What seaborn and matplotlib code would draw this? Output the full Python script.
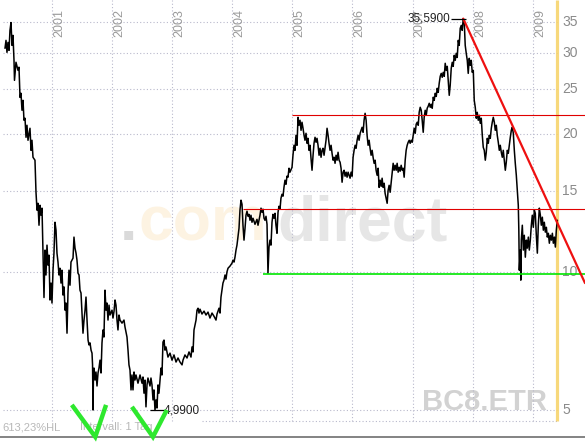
import matplotlib
matplotlib.use("Agg")
import matplotlib.pyplot as plt
import seaborn as sns

# price history BC8.ETR (decimal years, EUR)
years = [
    2000.218, 2000.235, 2000.251, 2000.268, 2000.285, 2000.301, 2000.318, 2000.335, 2000.351, 2000.368,
    2000.376, 2000.401, 2000.435, 2000.451, 2000.468, 2000.484, 2000.501, 2000.518, 2000.534, 2000.551,
    2000.568, 2000.584, 2000.601, 2000.634, 2000.651, 2000.667, 2000.684, 2000.717, 2000.734, 2000.751,
    2000.767, 2000.784, 2000.801, 2000.817, 2000.834, 2000.850, 2000.867, 2000.884, 2000.900, 2000.917,
    2000.934, 2000.950, 2000.967, 2000.984, 2001.000, 2001.017, 2001.033, 2001.050, 2001.067, 2001.083,
    2001.100, 2001.117, 2001.133, 2001.150, 2001.166, 2001.183, 2001.200, 2001.217, 2001.233, 2001.250,
    2001.266, 2001.283, 2001.300, 2001.316, 2001.350, 2001.366, 2001.383, 2001.400, 2001.416, 2001.433,
    2001.450, 2001.466, 2001.483, 2001.500, 2001.516, 2001.533, 2001.550, 2001.566, 2001.583, 2001.600,
    2001.616, 2001.633, 2001.650, 2001.666, 2001.675, 2001.683, 2001.691, 2001.699, 2001.716, 2001.732,
    2001.749, 2001.766, 2001.782, 2001.799, 2001.816, 2001.832, 2001.849, 2001.865, 2001.882, 2001.899,
    2001.915, 2001.932, 2001.949, 2001.965, 2001.999, 2002.015, 2002.032, 2002.049, 2002.065, 2002.082,
    2002.098, 2002.115, 2002.132, 2002.165, 2002.198, 2002.215, 2002.248, 2002.265, 2002.281, 2002.298,
    2002.315, 2002.331, 2002.348, 2002.365, 2002.381, 2002.398, 2002.431, 2002.465, 2002.498, 2002.514,
    2002.531, 2002.548, 2002.564, 2002.581, 2002.597, 2002.631, 2002.647, 2002.664, 2002.681, 2002.697,
    2002.714, 2002.731, 2002.747, 2002.764, 2002.780, 2002.797, 2002.814, 2002.830, 2002.847, 2002.864,
    2002.880, 2002.897, 2002.930, 2002.964, 2002.997, 2003.030, 2003.064, 2003.097, 2003.130, 2003.164,
    2003.180, 2003.213, 2003.247, 2003.280, 2003.313, 2003.330, 2003.347, 2003.363, 2003.380, 2003.397,
    2003.413, 2003.430, 2003.446, 2003.463, 2003.496, 2003.530, 2003.563, 2003.596, 2003.629, 2003.663,
    2003.696, 2003.729, 2003.746, 2003.779, 2003.796, 2003.812, 2003.829, 2003.845, 2003.862, 2003.879,
    2003.895, 2003.912, 2003.929, 2003.962, 2003.995, 2004.012, 2004.029, 2004.045, 2004.062, 2004.078,
    2004.095, 2004.112, 2004.128, 2004.145, 2004.162, 2004.178, 2004.195, 2004.212, 2004.228, 2004.245,
    2004.262, 2004.278, 2004.295, 2004.311, 2004.328, 2004.345, 2004.378, 2004.411, 2004.428, 2004.461,
    2004.478, 2004.494, 2004.511, 2004.528, 2004.544, 2004.561, 2004.578, 2004.594, 2004.611, 2004.627,
    2004.644, 2004.661, 2004.677, 2004.694, 2004.711, 2004.727, 2004.744, 2004.761, 2004.777, 2004.794,
    2004.810, 2004.827, 2004.844, 2004.860, 2004.877, 2004.894, 2004.910, 2004.927, 2004.944, 2004.960,
    2004.994, 2005.010, 2005.027, 2005.044, 2005.060, 2005.077, 2005.094, 2005.110, 2005.127, 2005.144,
    2005.160, 2005.177, 2005.194, 2005.210, 2005.227, 2005.244, 2005.260, 2005.277, 2005.294, 2005.310,
    2005.327, 2005.344, 2005.360, 2005.377, 2005.394, 2005.410, 2005.427, 2005.444, 2005.460, 2005.477,
    2005.494, 2005.510, 2005.527, 2005.544, 2005.560, 2005.577, 2005.594, 2005.610, 2005.627, 2005.644,
    2005.660, 2005.677, 2005.694, 2005.710, 2005.727, 2005.744, 2005.760, 2005.777, 2005.794, 2005.810,
    2005.827, 2005.844, 2005.860, 2005.877, 2005.894, 2005.910, 2005.927, 2005.944, 2005.960, 2005.977,
    2005.994, 2006.010, 2006.027, 2006.044, 2006.060, 2006.077, 2006.094, 2006.110, 2006.127, 2006.144,
    2006.160, 2006.177, 2006.193, 2006.210, 2006.227, 2006.243, 2006.260, 2006.277, 2006.293, 2006.310,
    2006.327, 2006.343, 2006.360, 2006.377, 2006.393, 2006.410, 2006.427, 2006.443, 2006.460, 2006.477,
    2006.493, 2006.510, 2006.527, 2006.543, 2006.560, 2006.577, 2006.593, 2006.610, 2006.627, 2006.643,
    2006.660, 2006.677, 2006.693, 2006.710, 2006.727, 2006.743, 2006.760, 2006.777, 2006.793, 2006.810,
    2006.827, 2006.843, 2006.860, 2006.877, 2006.893, 2006.910, 2006.927, 2006.944, 2006.960, 2006.977,
    2006.994, 2007.010, 2007.027, 2007.044, 2007.060, 2007.077, 2007.094, 2007.110, 2007.127, 2007.144,
    2007.160, 2007.177, 2007.193, 2007.210, 2007.227, 2007.243, 2007.260, 2007.277, 2007.294, 2007.310,
    2007.327, 2007.344, 2007.360, 2007.377, 2007.394, 2007.410, 2007.427, 2007.443, 2007.460, 2007.477,
    2007.493, 2007.510, 2007.527, 2007.543, 2007.560, 2007.577, 2007.593, 2007.610, 2007.626, 2007.643,
    2007.660, 2007.676, 2007.693, 2007.710, 2007.726, 2007.743, 2007.760, 2007.776, 2007.793, 2007.810,
    2007.826, 2007.843, 2007.860, 2007.876, 2007.893, 2007.910, 2007.926, 2007.943, 2007.960, 2007.976,
    2007.993, 2008.010, 2008.026, 2008.043, 2008.060, 2008.076, 2008.093, 2008.110, 2008.126, 2008.143,
    2008.160, 2008.176, 2008.193, 2008.210, 2008.226, 2008.243, 2008.260, 2008.276, 2008.293, 2008.310,
    2008.326, 2008.343, 2008.360, 2008.376, 2008.393, 2008.409, 2008.426, 2008.443, 2008.459, 2008.476,
    2008.493, 2008.509, 2008.526, 2008.543, 2008.559, 2008.576, 2008.593, 2008.609, 2008.626, 2008.643,
    2008.659, 2008.676, 2008.693, 2008.709, 2008.726, 2008.743, 2008.759, 2008.768, 2008.776, 2008.793,
    2008.801, 2008.809, 2008.826, 2008.843, 2008.859, 2008.876, 2008.893, 2008.909, 2008.926, 2008.942,
    2008.959, 2008.976, 2008.992, 2009.009, 2009.026, 2009.042, 2009.059, 2009.076, 2009.092, 2009.109,
    2009.126, 2009.142, 2009.159, 2009.176, 2009.192, 2009.209, 2009.226, 2009.242, 2009.259, 2009.276,
    2009.292, 2009.309, 2009.326, 2009.342, 2009.359, 2009.376, 2009.392, 2009.409,
]
prices = [
    30.67, 31.92, 30.06, 31.60, 30.36, 33.56, 34.90, 31.13, 32.73, 28.88,
    26.12, 28.60, 27.46, 27.90, 23.98, 24.48, 22.48, 23.63, 21.38, 21.60,
    19.63, 20.85, 19.34, 20.54, 18.39, 19.34, 17.76, 17.50, 14.90, 13.62,
    14.10, 12.63, 13.96, 13.28, 13.76, 11.15, 8.79, 11.15, 9.84, 11.43,
    10.34, 10.87, 8.68, 9.45, 8.55, 10.08, 10.98, 12.82, 12.32, 10.98,
    10.50, 9.84, 10.18, 9.45, 10.08, 8.90, 9.27, 8.25, 8.55, 7.35,
    8.99, 10.08, 9.35, 10.50, 10.71, 11.90, 11.26, 10.98, 10.60, 9.93,
    9.84, 9.12, 8.99, 8.13, 7.35, 7.85, 8.25, 8.81, 7.85, 7.10,
    6.93, 7.00, 6.75, 6.65, 6.27, 5.00, 6.11, 6.17, 5.81, 6.05,
    5.64, 6.02, 6.17, 6.42, 6.02, 7.00, 7.47, 7.21, 9.12, 8.25,
    8.55, 7.85, 8.46, 8.05, 8.25, 7.93, 8.20, 8.68, 8.46, 7.85,
    7.47, 8.05, 7.85, 7.73, 7.85, 7.58, 7.21, 6.75, 6.27, 6.11,
    5.53, 5.96, 5.53, 6.05, 5.81, 5.96, 5.72, 5.96, 5.72, 5.90,
    5.44, 5.81, 5.08, 5.67, 5.87, 5.64, 5.87, 5.67, 5.26, 5.53,
    4.99, 5.26, 5.05, 5.67, 5.44, 5.81, 6.17, 5.96, 7.03, 7.10,
    6.75, 6.86, 6.52, 6.65, 6.42, 6.59, 6.36, 6.49, 6.36, 6.27,
    6.42, 6.59, 6.49, 6.69, 6.52, 6.86, 6.69, 7.47, 7.66, 7.85,
    8.25, 8.33, 8.13, 8.29, 8.09, 8.21, 8.05, 8.17, 7.93, 8.13,
    8.00, 7.85, 8.09, 8.33, 8.13, 8.81, 9.12, 9.45, 9.59, 9.84,
    9.64, 10.00, 10.18, 10.29, 10.44, 10.60, 10.50, 10.76, 11.15, 11.43,
    11.95, 12.44, 13.62, 14.32, 14.03, 12.63, 11.72, 12.44, 13.28, 13.55,
    13.21, 13.34, 12.95, 13.28, 12.82, 13.08, 12.69, 13.01, 12.63, 13.28,
    13.76, 13.48, 13.69, 13.08, 12.95, 13.21, 12.69, 9.93, 11.32, 11.72,
    11.43, 12.82, 13.34, 13.08, 13.41, 12.63, 12.13, 13.48, 13.89, 13.69,
    14.46, 14.75, 14.61, 15.27, 15.83, 15.51, 16.15, 16.07, 16.81, 16.48,
    16.89, 17.94, 18.86, 18.39, 19.83, 18.86, 21.70, 20.85, 21.38, 20.33,
    21.17, 20.54, 19.83, 19.34, 20.03, 19.05, 19.53, 18.39, 18.86, 17.67,
    16.64, 17.94, 19.05, 19.63, 19.15, 19.53, 18.86, 17.94, 18.58, 17.76,
    18.39, 18.58, 17.94, 18.67, 19.34, 20.54, 19.83, 19.05, 18.39, 18.86,
    18.12, 17.50, 17.76, 17.23, 17.94, 17.50, 18.21, 17.50, 17.32, 16.81,
    15.67, 16.48, 16.64, 16.15, 16.48, 16.07, 16.48, 16.23, 15.99, 16.48,
    16.15, 17.76, 18.39, 18.86, 18.58, 19.34, 19.83, 19.34, 20.03, 20.33,
    20.64, 20.13, 21.38, 22.14, 21.38, 19.83, 18.86, 19.34, 18.58, 17.94,
    18.39, 17.76, 17.23, 17.50, 16.64, 16.23, 16.81, 15.27, 15.83, 15.35,
    15.99, 15.27, 15.59, 14.82, 14.46, 14.10, 15.05, 15.43, 14.90, 15.59,
    16.39, 17.23, 16.64, 17.06, 16.64, 17.23, 16.48, 16.89, 16.56, 17.06,
    16.64, 16.81, 16.07, 17.50, 18.39, 18.86, 19.15, 19.34, 19.05, 19.34,
    19.15, 19.83, 20.54, 20.03, 20.96, 21.17, 20.85, 22.25, 22.82, 22.48,
    21.38, 20.13, 21.70, 22.48, 21.92, 22.71, 22.94, 23.28, 22.82, 23.17,
    22.71, 24.00, 23.63, 24.48, 24.10, 25.10, 24.60, 25.73, 26.65, 27.05,
    26.52, 27.19, 26.65, 28.45, 27.46, 28.02, 26.12, 24.23, 25.48, 27.74,
    28.59, 28.02, 29.61, 28.88, 29.91, 29.30, 31.92, 31.13, 33.90, 34.41,
    33.56, 35.59, 34.90, 31.13, 29.91, 28.88, 27.05, 29.17, 28.16, 28.88,
    27.19, 27.46, 23.63, 22.82, 21.60, 22.25, 21.38, 21.92, 21.06, 21.60,
    19.83, 18.67, 18.39, 17.50, 18.21, 19.53, 19.05, 19.83, 19.53, 20.54,
    21.17, 21.70, 21.17, 20.33, 20.85, 19.83, 19.15, 18.39, 18.86, 18.21,
    17.76, 18.39, 17.50, 16.64, 17.32, 18.39, 18.12, 18.86, 19.63, 20.33,
    20.64, 20.03, 18.39, 17.23, 16.23, 15.05, 13.96, 12.32, 10.08, 11.15,
    9.59, 11.72, 12.63, 11.15, 12.01, 10.76, 11.72, 11.26, 11.90, 11.15,
    11.72, 12.63, 13.28, 12.50, 13.62, 13.41, 12.01, 10.98, 12.63, 13.76,
    13.28, 12.63, 13.15, 12.32, 12.82, 12.20, 12.50, 11.90, 12.13, 11.54,
    12.01, 11.72, 12.13, 11.54, 11.90, 11.32, 12.32, 12.95,
]

# drawn lines (resistance / support / trend)
resist_levels = [21.92, 13.69]
resist_start = [2004.99, 2004.18]
support_level = 9.88
support_start = 2004.51
trend_years = [2007.843, 2009.869]
trend_prices = [35.59, 9.45]
last_day = 2009.40

# green check marks under the two lows
check1_years = [2001.33, 2001.72, 2001.90]
check1_prices = [5.13, 4.37, 5.13]
check2_years = [2002.33, 2002.68, 2002.91]
check2_prices = [5.08, 4.37, 5.00]

hi_year, hi_price = 2007.843, 35.59
lo_year, lo_price = 2002.714, 4.99

ytick_values = [5, 10, 15, 20, 25, 30, 35]
year_labels = [2001, 2002, 2003, 2004, 2005, 2006, 2007, 2008, 2009]

x_left, x_right = 2000.135, 2009.869
y_bottom, y_top = 4.367, 39.08

sns.set_style("white")
plt.rcParams['font.family'] = ['Liberation Sans', 'DejaVu Sans']

fig = plt.figure(figsize=(5.85, 4.45), dpi=100)
ax = fig.add_axes([0, 8 / 445, 1, 437 / 445])
ax.set_yscale('log')
ax.set_xlim(x_left, x_right)
ax.set_ylim(y_bottom, y_top)
ax.set_xticks([])
ax.set_yticks([])
ax.minorticks_off()
for s in ['top', 'left', 'right']:
    ax.spines[s].set_visible(False)
ax.spines['bottom'].set_color('#7a7a7a')
ax.spines['bottom'].set_linewidth(1.3)

grid_col = '#b9b9cc'
ax.hlines(ytick_values, 2000.18, last_day, colors=grid_col, lw=0.8, linestyles=(0, (1, 2)), zorder=1)
ax.hlines([4.73], 2003.5, last_day, colors=grid_col, lw=0.8, linestyles=(0, (1, 2)), zorder=1)
ax.vlines(year_labels, 4.73, y_top, colors=grid_col, lw=0.8, linestyles=(0, (1, 2)), zorder=1)
ax.vlines([last_day], 4.73, y_top, colors='#f6cf5a', lw=2.3, alpha=0.8, zorder=1)

# watermark
wm = dict(fontsize=45, fontweight='bold', va='baseline', zorder=0)
ax.text(2002.13, 11.72, ".", color='#dadada', ha='left', **wm)
ax.text(2004.578, 11.72, "com", color='#fdf3e2', ha='right', **wm)
ax.text(2004.744, 11.72, "direct", color='#e6e6e6', ha='left', **wm)
ax.text(2009.236, 5.0, "BC8.ETR", fontsize=21, fontweight='bold', color='#d2d2d2', va='baseline', ha='right', zorder=0)

# year labels on top
for yr in year_labels:
    ax.text(yr + 0.02, 1 - 37 / 437, str(yr), transform=ax.get_xaxis_transform(), rotation=90,
            ha='left', va='bottom', fontsize=9, color='#9a9a9a')

# price labels on the right
for v in ytick_values:
    ax.text(2009.486, v, str(v), ha='left', va='center', fontsize=10, color='#8a8a8a')

# price line
sns.lineplot(x=years, y=prices, ax=ax, color='black', lw=1.1, estimator=None, zorder=3)

# lines drawn on top
for lvl, start in zip(resist_levels, resist_start):
    ax.hlines(lvl, start, x_right, colors='#e00000', lw=0.8, zorder=4)
ax.hlines(support_level, support_start, x_right, colors='#00e600', lw=1.2, zorder=4)
ax.plot(trend_years, trend_prices, color='#ee1010', lw=1.6, zorder=5)

# high / low markers
ax.hlines(hi_price, hi_year - 0.2, hi_year + 0.05, colors='black', lw=0.9, zorder=5)
ax.text(hi_year - 0.21, hi_price, "35,5900", ha='right', va='center', fontsize=8.5, color='#222222')
ax.hlines(lo_price, lo_year - 0.08, lo_year + 0.17, colors='black', lw=0.9, zorder=5)
ax.text(lo_year + 0.14, lo_price, "4,9900", ha='left', va='center', fontsize=8.5, color='#222222')

# footer texts
ax.text(2000.168, 4.59, "613,23%HL", ha='left', va='center', fontsize=8, color='#b8b8b8')
ax.text(2001.466, 4.59, "Intervall: 1 Tag", ha='left', va='center', fontsize=8, color='#b8b8b8')

for cy, cp in [(check1_years, check1_prices), (check2_years, check2_prices)]:
    ax.plot(cy, cp, color='#2ee82e', lw=3.2, solid_capstyle='butt', solid_joinstyle='miter', clip_on=False, zorder=6)

fig.savefig("out.png", dpi=100)
